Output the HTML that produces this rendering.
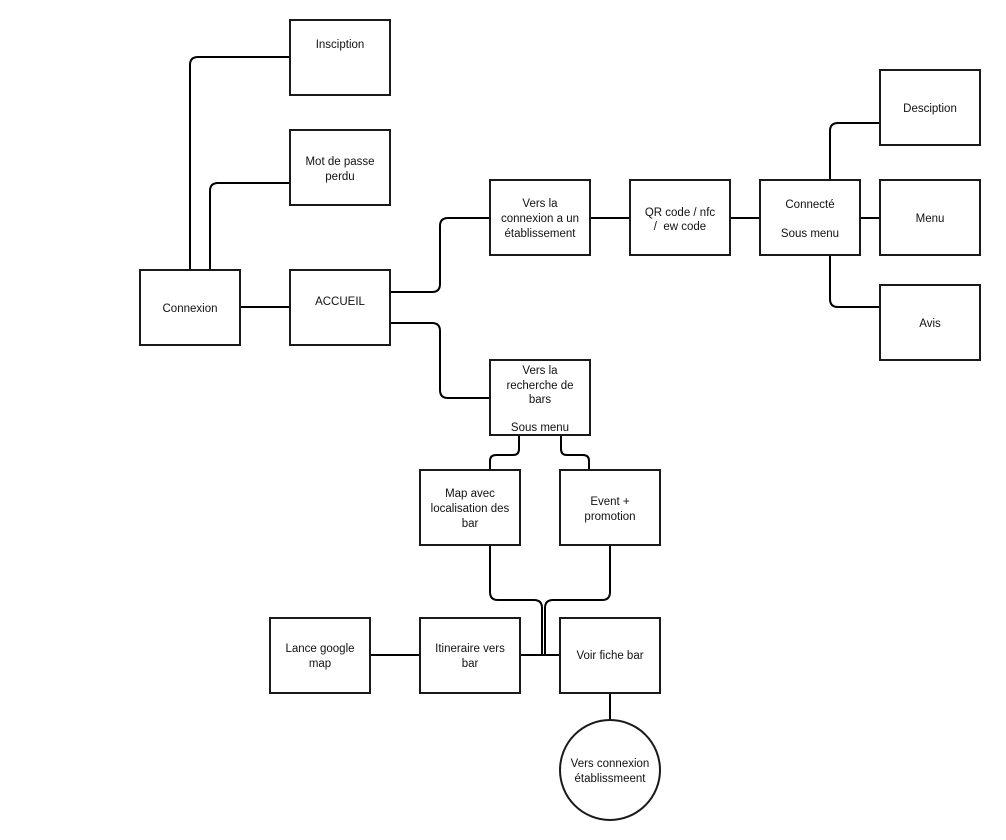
<!DOCTYPE html>
<html>
<head>
<meta charset="utf-8">
<style>
  html,body{margin:0;padding:0;background:#fff;}
  svg{display:block;}
  text{font-family:"Liberation Sans",Arial,sans-serif;font-size:11.5px;fill:#111;text-anchor:middle;}
  .b{fill:#fff;stroke:#1a1a1a;stroke-width:2;}
  .c{fill:none;stroke:#000;stroke-width:2;}
</style>
</head>
<body>
<svg width="1006" height="840" viewBox="0 0 1006 840" xmlns="http://www.w3.org/2000/svg">
  <rect x="0" y="0" width="1006" height="840" fill="#fff"/>

  <!-- connectors -->
  <path class="c" d="M190,270 V65 Q190,57 198,57 H290"/>
  <path class="c" d="M210,270 V191 Q210,183 218,183 H290"/>
  <path class="c" d="M240,307 H290"/>
  <path class="c" d="M390,292 H432 Q440,292 440,284 V226 Q440,218 448,218 H490"/>
  <path class="c" d="M390,323 H432 Q440,323 440,331 V390 Q440,398 448,398 H490"/>
  <path class="c" d="M590,218 H630"/>
  <path class="c" d="M730,218 H760"/>
  <path class="c" d="M830,180 V131 Q830,123 838,123 H880"/>
  <path class="c" d="M860,218 H880"/>
  <path class="c" d="M830,255 V299 Q830,307 838,307 H880"/>
  <path class="c" d="M519,435 V449 Q519,455 513,455 H496 Q490,455 490,461 V470"/>
  <path class="c" d="M561,435 V449 Q561,455 567,455 H583 Q589,455 589,461 V470"/>
  <path class="c" d="M490,545 V592 Q490,600 498,600 H534 Q542,600 542,608 V655"/>
  <path class="c" d="M610,545 V592 Q610,600 602,600 H553 Q545,600 545,608 V655"/>
  <path class="c" d="M520,655 H560"/>
  <path class="c" d="M370,655 H420"/>
  <path class="c" d="M610,693 V720"/>

  <!-- boxes -->
  <rect class="b" x="290" y="20" width="100" height="75"/>
  <text x="340" y="48">Insciption</text>

  <rect class="b" x="290" y="130" width="100" height="75"/>
  <text x="340" y="165">Mot de passe</text>
  <text x="340" y="180">perdu</text>

  <rect class="b" x="140" y="270" width="100" height="75"/>
  <text x="190" y="312">Connexion</text>

  <rect class="b" x="290" y="270" width="100" height="75"/>
  <text x="340" y="305">ACCUEIL</text>

  <rect class="b" x="490" y="180" width="100" height="75"/>
  <text x="540" y="207">Vers la</text>
  <text x="540" y="222">connexion a un</text>
  <text x="540" y="237">établissement</text>

  <rect class="b" x="630" y="180" width="100" height="75"/>
  <text x="680" y="216">QR code / nfc</text>
  <text x="680" y="230" xml:space="preserve">/  ew code</text>

  <rect class="b" x="760" y="180" width="100" height="75"/>
  <text x="810" y="208">Connecté</text>
  <text x="810" y="237">Sous menu</text>

  <rect class="b" x="880" y="70" width="100" height="75"/>
  <text x="930" y="112">Desciption</text>

  <rect class="b" x="880" y="180" width="100" height="75"/>
  <text x="930" y="222">Menu</text>

  <rect class="b" x="880" y="285" width="100" height="75"/>
  <text x="930" y="327">Avis</text>

  <rect class="b" x="490" y="360" width="100" height="75"/>
  <text x="540" y="374">Vers la</text>
  <text x="540" y="389">recherche de</text>
  <text x="540" y="403">bars</text>
  <text x="540" y="431">Sous menu</text>

  <rect class="b" x="420" y="470" width="100" height="75"/>
  <text x="470" y="497">Map avec</text>
  <text x="470" y="512">localisation des</text>
  <text x="470" y="527">bar</text>

  <rect class="b" x="560" y="470" width="100" height="75"/>
  <text x="610" y="505">Event +</text>
  <text x="610" y="520">promotion</text>

  <rect class="b" x="270" y="618" width="100" height="75"/>
  <text x="320" y="652">Lance google</text>
  <text x="320" y="667">map</text>

  <rect class="b" x="420" y="618" width="100" height="75"/>
  <text x="470" y="652">Itineraire vers</text>
  <text x="470" y="667">bar</text>

  <rect class="b" x="560" y="618" width="100" height="75"/>
  <text x="610" y="659">Voir fiche bar</text>

  <circle class="b" cx="610" cy="770" r="50"/>
  <text x="610" y="767">Vers connexion</text>
  <text x="610" y="782">établissmeent</text>
</svg>
</body>
</html>
